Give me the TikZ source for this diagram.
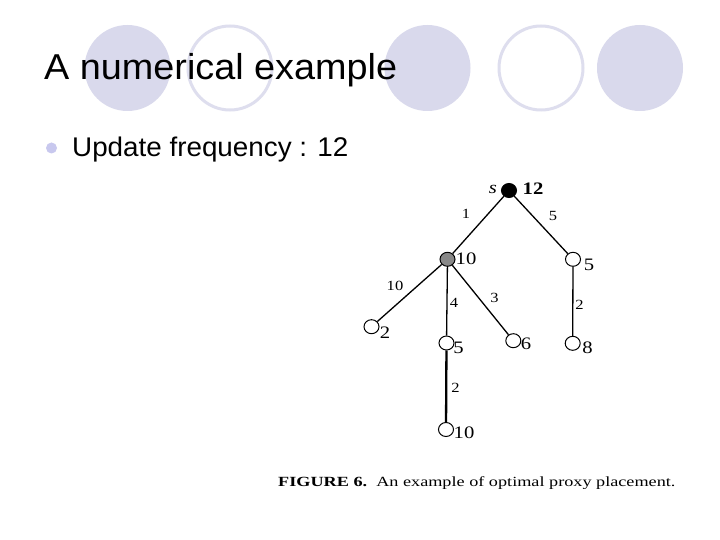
\documentclass[tikz,border=0pt]{standalone}
\usepackage{fontspec}
\setmainfont{Liberation Serif}
\newfontfamily\slidesans{Liberation Sans}
\usepackage{graphicx}
\definecolor{deco}{RGB}{217,217,236}
\definecolor{ring}{RGB}{222,222,238}
\definecolor{bul}{RGB}{200,200,238}
\definecolor{proxy}{RGB}{136,136,136}
\newcommand{\hstr}[1]{\scalebox{1.18}[1]{#1}}
\usetikzlibrary{shapes.geometric}
\tikzset{
  decoring/.style={draw=ring, line width=3pt, fill=white},
  vtx/.style={ellipse, draw=black, line width=1pt, fill=white, minimum width=15pt, minimum height=14pt, inner sep=0pt},
  nlab/.style={inner sep=0pt, font=\fontsize{17.5}{17.5}\selectfont},
  elab/.style={inner sep=0pt, font=\fontsize{14}{14}\selectfont},
  edge/.style={draw=black, line width=1.3pt},
}
\begin{document}
\begin{tikzpicture}[x=1pt,y=-1pt]
\useasboundingbox (0,0) rectangle (720,540);
\fill[white] (0,0) rectangle (720,540);
% decorative circles
\fill[deco] (127.5,68) circle[radius=43];
\draw[decoring] (230,68) circle[radius=42];
\fill[deco] (427.5,68) circle[radius=43];
\draw[decoring] (541,68) circle[radius=42];
\fill[deco] (640,68) circle[radius=43];
% title
\node[anchor=base west, inner sep=0pt, font=\slidesans\fontsize{36}{40}\selectfont] (title) at (44,80) {\scalebox{1.05}[1]{A numerical example}};
% bullet
\fill[bul] (51.5,148) circle[radius=5.5];
\node[anchor=base west, inner sep=0pt, font=\slidesans\fontsize{27}{30}\selectfont] (item) at (72,157) {\scalebox{1.03}[1]{Update frequency : 12}};
% tree nodes
\node[vtx, fill=black] (s) at (509,190.5) {};
\node[vtx, fill=proxy] (a) at (447.5,259.3) {};
\node[vtx] (b) at (573,259.3) {};
\node[vtx] (c) at (371.5,326.7) {};
\node[vtx] (d) at (446.5,343) {};
\node[vtx] (e) at (513.3,340.7) {};
\node[vtx] (f) at (572.7,343.3) {};
\node[vtx] (g) at (446,429.5) {};
% edges
\draw[edge] (s) -- (a);
\draw[edge] (s) -- (b);
\draw[edge] (a) -- (c);
\draw[edge] (a) -- (d);
\draw[edge] (a) -- (e);
\draw[edge] (b) -- (f);
\draw[draw=black, line width=2.3pt] (d) -- (g);
% node labels
\node[nlab, anchor=base] (ls) at (493,194) {\hstr{\itshape s}};
\node[nlab] (l12) at (533,189) {\hstr{\bfseries 12}};
\node[nlab] (la) at (466,259) {\hstr{10}};
\node[nlab] (lb) at (589,265) {\hstr{5}};
\node[nlab] (lc) at (385,332.5) {\hstr{2}};
\node[nlab] (ld) at (458.5,347.5) {\hstr{5}};
\node[nlab] (le) at (526,343.5) {\hstr{6}};
\node[nlab] (lf) at (587.5,348) {\hstr{8}};
\node[nlab] (lg) at (464,432.5) {\hstr{10}};
% edge labels
\node[elab] (e1) at (466,214) {\hstr{1}};
\node[elab] (e2) at (553,216) {\hstr{5}};
\node[elab] (e3) at (395,286) {\hstr{10}};
\node[elab] (e4) at (454,302.5) {\hstr{4}};
\node[elab] (e5) at (494.5,298) {\hstr{3}};
\node[elab] (e6) at (579.5,305) {\hstr{2}};
\node[elab] (e7) at (455.5,388) {\hstr{2}};
% caption
\node[anchor=base west, inner sep=0pt, font=\fontsize{14}{15}\selectfont] (cap) at (278,486) {\scalebox{1.3}[1]{\textbf{FIGURE 6.}\enspace An example of optimal proxy placement.}};
\end{tikzpicture}
\end{document}
